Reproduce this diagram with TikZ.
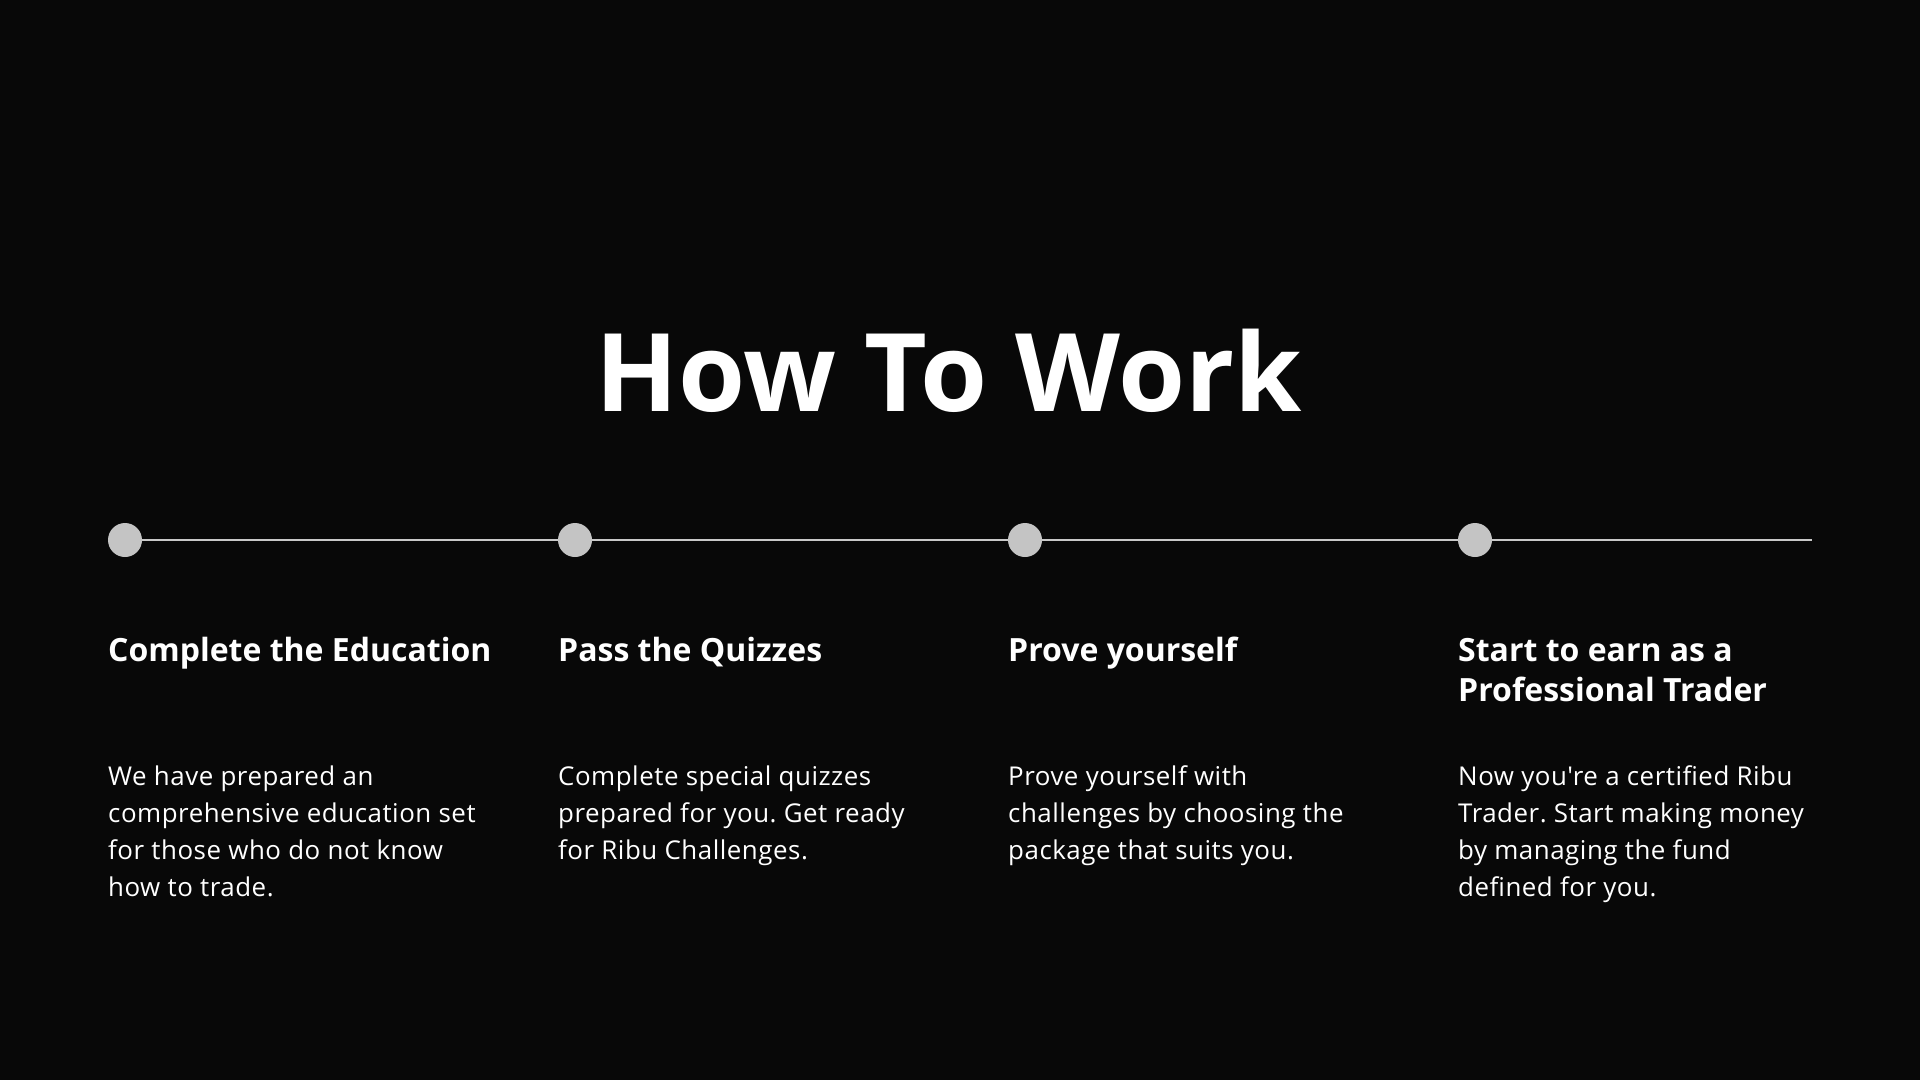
\documentclass[tikz,border=0pt]{standalone}
\usepackage{fontspec}
\setmainfont{Open Sans}
\newfontfamily\bodyfont[LetterSpace=2.0]{Open Sans}
\definecolor{bg}{HTML}{080808}
\definecolor{dotc}{HTML}{C4C4C4}
\definecolor{linec}{HTML}{C8C8C8}
\begin{document}
\frenchspacing
\begin{tikzpicture}[x=1pt,y=-1pt,
  titlestyle/.style={text=white,inner sep=0pt,anchor=base,font=\bfseries\fontsize{108.5}{130}\selectfont},
  headstyle/.style={text=white,inner sep=0pt,anchor=north west,align=left,font=\bfseries\fontsize{32}{40}\selectfont},
  bodystyle/.style={text=white,inner sep=0pt,anchor=north west,align=left,font=\bodyfont\fontsize{25.9}{37}\selectfont},
  dot/.style={circle,fill=dotc,minimum size=34pt,inner sep=0pt},
  track/.style={draw=linec,line width=2pt}]
\fill[bg] (0,0) rectangle (1920,1080);
\useasboundingbox (0,0) rectangle (1920,1080);
\node[titlestyle] (title) at (949,411) {How To Work};
\coordinate (end) at (1812,540);
\node[dot] (d1) at (125,540) {};
\node[dot] (d2) at (575,540) {};
\node[dot] (d3) at (1025,540) {};
\node[dot] (d4) at (1475,540) {};
\draw[track] (d1) -- (d2);
\draw[track] (d2) -- (d3);
\draw[track] (d3) -- (d4);
\draw[track] (d4) -- (end);
% headings: baseline 661, strut 35
\node[headstyle] (h1) at (108,626) {\rule{0pt}{35pt}Complete the Education};
\node[headstyle] (h2) at (558,626) {\rule{0pt}{35pt}Pass the Quizzes};
\node[headstyle] (h3) at (1008,626) {\rule{0pt}{35pt}Prove yourself};
\node[headstyle] (h4) at (1458,626) {\rule{0pt}{35pt}Start to earn as a\\Professional Trader};
% bodies: baseline 785
\node[bodystyle] (b1) at (108,750) {\rule{0pt}{35pt}We have prepared an\\comprehensive education set\\for those who do not know\\how to trade.};
\node[bodystyle] (b2) at (558,750) {\rule{0pt}{35pt}Complete special quizzes\\prepared for you. Get ready\\for Ribu Challenges.};
\node[bodystyle] (b3) at (1008,750) {\rule{0pt}{35pt}Prove yourself with\\challenges by choosing the\\package that suits you.};
\node[bodystyle] (b4) at (1458,750) {\rule{0pt}{35pt}Now you{\char"0027}re a certified Ribu\\Trader. Start making money\\by managing the fund\\defined for you.};
\end{tikzpicture}
\end{document}
